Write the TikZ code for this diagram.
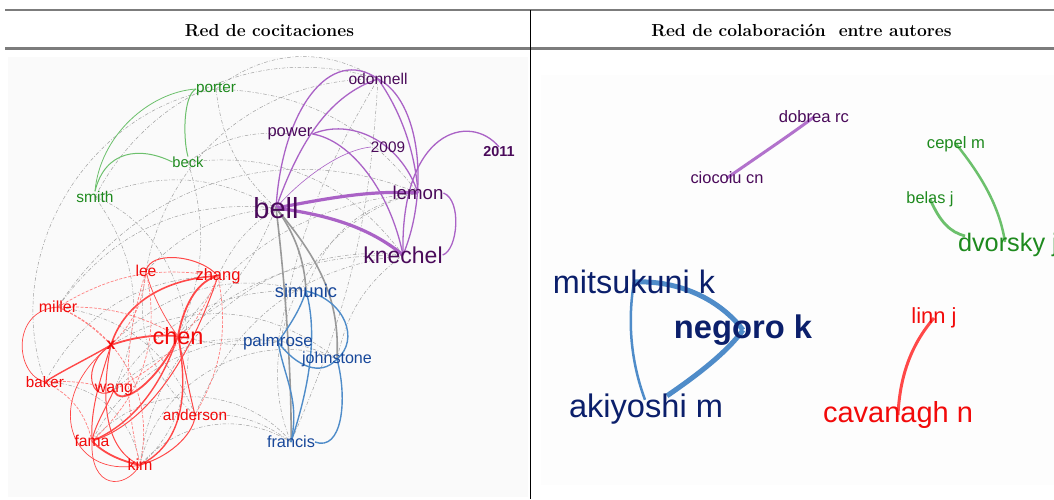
\documentclass[tikz,border=0pt]{standalone}
\usepackage{fontspec}
\newfontfamily\arialf{Liberation Sans}
\usetikzlibrary{backgrounds,calc}
\definecolor{labR}{HTML}{F20A0A}
\definecolor{edgR}{HTML}{FF4848}
\definecolor{labG}{HTML}{1E8A1E}
\definecolor{edgG}{HTML}{6CC06C}
\definecolor{labP}{HTML}{4A0A5A}
\definecolor{edgP}{HTML}{AA62C6}
\definecolor{labB}{HTML}{17479A}
\definecolor{labN}{HTML}{0B1F6B}
\definecolor{edgB}{HTML}{4F8CC9}
\definecolor{edgGr}{HTML}{A0A0A0}
\definecolor{ruleC}{HTML}{7C7C7C}
\newcommand\fsz[1]{\fontsize{#1}{#1}\selectfont}
\begin{document}
\begin{tikzpicture}[x=1pt,y=-1pt,
  lab/.style={inner sep=0pt, outer sep=0pt, font=\arialf\fsz{#1}},
  head/.style={inner sep=0pt, anchor=base, font=\fsz{17.4}\bfseries},
  rulel/.style={draw=ruleC, line width=2.2pt},
  ge/.style={draw=edgGr, line width=0.5pt, dash pattern=on 3.5pt off 1.8pt on 0.8pt off 1.8pt},
  gT/.style={draw=gray!80, line width=1.6pt},
  rE/.style={draw=edgR, line width=1pt},
  rD/.style={draw=edgR!70, line width=0.7pt, dash pattern=on 3pt off 1.5pt},
  gE/.style={draw=edgG, line width=1pt},
  pE/.style={draw=edgP, line width=1.3pt},
  bE/.style={draw=edgB, line width=1.4pt}]
\useasboundingbox (0,0) rectangle (1054,499);

% table
\draw[rulel] (5,10) -- (1054,10);
\draw[rulel] (5,48.5) -- (1054,48.5);
\draw[black, line width=0.9pt] (530,10) -- (530,499);
\node[head] (h1) at (269.5,36.7) {Red de cocitaciones};
\node[head] (h2) at (801.5,36.7) {Red de colaboración\ \ entre autores};

% ---------- left labels
\node[lab=15.3, text=labG] (porter) at (216,89) {porter};
\node[lab=14.7, text=labG] (beck) at (188,162) {beck};
\node[lab=15.5, text=labG] (smith) at (95,197) {smith};
\node[lab=16.5, text=labP] (power) at (290,134) {power};
\node[lab=15.6, text=labP] (odonnell) at (378,79) {odonnell};
\node[lab=15.3, text=labP] (y2009) at (388,147) {2009};
\node[lab=14.4, text=labP, font=\arialf\fsz{14.4}\bfseries] (y2011) at (499,152) {2011};
\node[lab=18.7, text=labP] (lemon) at (418,193) {lemon};
\node[lab=29, text=labP] (bell) at (276,208) {bell};
\node[lab=23, text=labP] (knechel) at (403,255) {knechel};
\node[lab=15.7, text=labR] (lee) at (146,271) {lee};
\node[lab=16.5, text=labR] (zhang) at (218,276) {zhang};
\node[lab=16, text=labR] (miller) at (58,307) {miller};
\node[lab=23.5, text=labR] (chen) at (178,336) {chen};
\node[lab=16, text=labR, font=\arialf\fsz{16}\bfseries] (xx) at (111,345) {x};
\node[lab=15.2, text=labR] (baker) at (45,382) {baker};
\node[lab=15.9, text=labR] (wang) at (114,390) {wang};
\node[lab=15.4, text=labR] (anderson) at (195,415) {anderson};
\node[lab=15.7, text=labR] (fama) at (92,441) {fama};
\node[lab=16, text=labR] (kim) at (140,465) {kim};
\node[lab=18.3, text=labB] (simunic) at (306,291) {simunic};
\node[lab=17, text=labB] (palmrose) at (278,342) {palmrose};
\node[lab=16.1, text=labB] (johnstone) at (337,359) {johnstone};
\node[lab=16.3, text=labB] (francis) at (291,442) {francis};

% ---------- right labels
\node[lab=16.6, text=labP] (dobrea) at (814,117) {dobrea rc};
\node[lab=16.4, text=labP] (ciocoiu) at (727,178) {ciocoiu cn};
\node[lab=16.6, text=labG] (cepel) at (956,144) {cepel m};
\node[lab=16.3, text=labG] (belas) at (930,199) {belas j};
\begin{scope}
\clip (531,52) rectangle (1054,499);
\node[lab=25.3, text=labG, anchor=west] (dvorsky) at (958,245) {dvorsky j};
\end{scope}
\node[lab=32.4, text=labN] (mitsukuni) at (634,282) {mitsukuni k};
\node[lab=32.7, text=labN, font=\arialf\fsz{32.7}\bfseries] (negoro) at (743,330) {negoro k};
\node[lab=32.6, text=labN] (akiyoshi) at (646,409) {akiyoshi m};
\node[lab=21.9, text=labR] (linn) at (934,318) {linn j};
\node[lab=29, text=labR] (cavanagh) at (898,415) {cavanagh n};

\begin{scope}[on background layer]
\fill[black!2] (8,57) rectangle (528,497);
\fill[black!0.8] (541,75) rectangle (1054,485);

% gray dashed co-citation links
\foreach \a/\b/\c in {smith/odonnell/40, smith/bell/25, porter/bell/-20, porter/odonnell/35,
  beck/knechel/30, beck/power/20, miller/bell/30, lee/bell/20, zhang/bell/15, chen/bell/-15,
  chen/knechel/20, chen/lemon/25, kim/francis/40, fama/johnstone/45, anderson/francis/20,
  baker/porter/50, smith/kim/60, wang/simunic/30, chen/palmrose/-10, anderson/knechel/30,
  kim/knechel/45, francis/lemon/50, johnstone/knechel/20, simunic/lemon/30, smith/wang/30,
  miller/anderson/30, lee/anderson/-30, baker/kim/40, xx/simunic/30, odonnell/francis/10,
  odonnell/palmrose/-10, miller/lemon/40, beck/chen/20, lee/odonnell/40, fama/francis/50,
  kim/johnstone/50, baker/zhang/30, porter/lemon/25, wang/palmrose/25, xx/johnstone/35}
  \draw[ge] (\a.center) to[bend left=\c] (\b.center);

% green
\draw[gE] (porter.west) .. controls (183,95) and (183,140) .. (beck.north);
\draw[gE, line width=0.8pt] (porter.west) .. controls (150,92) and (100,135) .. (smith.north);
\draw[gE] (beck.west) .. controls (140,146) and (105,150) .. (smith.north);

% purple
\draw[pE, line width=3.2pt] (bell.center) .. controls (330,198) and (370,190) .. (lemon.center);
\draw[pE, line width=3.2pt] (bell.center) .. controls (330,215) and (370,228) .. (knechel.center);
\draw[pE] (bell.center) .. controls (282,110) and (330,45) .. (odonnell.center);
\draw[pE] (bell.center) .. controls (300,140) and (330,95) .. (odonnell.center);
\draw[pE] (odonnell.center) .. controls (400,110) and (415,150) .. (lemon.center);
\draw[pE] (odonnell.center) .. controls (420,100) and (430,190) .. (knechel.center);
\draw[pE] (power.east) .. controls (350,118) and (400,140) .. (lemon.center);
\draw[pE] (power.east) .. controls (350,140) and (390,190) .. (knechel.center);
\draw[pE] (y2011.north) .. controls (470,112) and (400,130) .. (knechel.center);
\draw[pE] (lemon.east) .. controls (462,200) and (458,250) .. (knechel.east);
\draw[pE, line width=0.6pt] (y2009.west) .. controls (340,150) and (300,180) .. (bell.center);

% gray strong
\draw[gT] (bell.center) .. controls (285,280) and (292,380) .. (francis.center);
\draw[gT] (bell.center) .. controls (300,240) and (305,270) .. (simunic.center);
\draw[gT] (bell.center) .. controls (320,260) and (340,300) .. (johnstone.center);

% blue
\draw[bE] (simunic.center) .. controls (300,310) and (290,325) .. (palmrose.center);
\draw[bE] (simunic.center) .. controls (345,300) and (360,340) .. (johnstone.center);
\draw[bE] (simunic.center) .. controls (320,340) and (305,400) .. (francis.center);
\draw[bE] (palmrose.center) .. controls (285,380) and (300,400) .. (francis.center);
\draw[bE] (palmrose.center) .. controls (295,365) and (320,378) .. (johnstone.center);
\draw[bE] (johnstone.center) .. controls (348,400) and (342,452) .. (francis.east);

% red
\draw[rE, line width=1.8pt] (chen.center) .. controls (185,300) and (200,280) .. (zhang.center);
\draw[rE, line width=1.8pt] (xx.center) .. controls (140,335) and (160,335) .. (chen.center);
\draw[rE, line width=1.6pt] (xx.center) .. controls (125,300) and (170,278) .. (zhang.center);
\draw[rE, line width=1.8pt] (chen.center) .. controls (160,380) and (120,410) .. (wang.center);
\draw[rE, line width=1.8pt] (fama.center) .. controls (105,455) and (125,462) .. (kim.center);
\draw[rE, line width=1.4pt] (xx.center) .. controls (85,360) and (60,372) .. (baker.center);
\draw[rE, line width=1.4pt] (chen.center) .. controls (160,390) and (130,425) .. (fama.center);
\draw[rE, line width=1.4pt] (chen.center) .. controls (190,400) and (180,445) .. (kim.center);
\draw[rE] (lee.center) .. controls (150,250) and (200,255) .. (zhang.center);
\draw[rE] (xx.center) .. controls (80,365) and (90,405) .. (wang.center);
\draw[rE] (chen.center) .. controls (185,370) and (190,395) .. (anderson.center);
\draw[rE] (xx.center) .. controls (100,400) and (105,450) .. (kim.center);
\draw[rE] (xx.center) .. controls (100,380) and (90,410) .. (fama.center);
\draw[rE, line width=0.7pt] (miller.center) .. controls (10,310) and (15,375) .. (baker.center);
\draw[rE] (kim.center) .. controls (175,455) and (195,430) .. (anderson.center);
\draw[rE, line width=0.7pt] (fama.center) .. controls (90,490) and (125,490) .. (kim.center);
\draw[rE, line width=0.7pt] (xx.center) .. controls (40,400) and (70,480) .. (kim.center);
\draw[rE] (wang.center) .. controls (105,410) and (95,425) .. (fama.center);
\draw[rE] (zhang.center) .. controls (200,330) and (160,420) .. (fama.center);
\draw[rE, line width=0.7pt] (lee.center) .. controls (150,290) and (165,320) .. (chen.center);
\foreach \a/\b/\c in {miller/xx/10, lee/xx/20, miller/chen/15, baker/wang/10, baker/fama/25,
  miller/kim/40, lee/fama/30, zhang/anderson/20, lee/kim/-15, zhang/wang/20, miller/zhang/20}
  \draw[rD] (\a.center) to[bend left=\c] (\b.center);

% ---------- right edges
\draw[pE, line width=3pt, draw=edgP!90] (dobrea.center) .. controls (790,135) and (760,155) .. (ciocoiu.center);
\draw[gE, line width=2.5pt] (cepel.center) .. controls (985,180) and (1000,210) .. ($(dvorsky.west)+(47,-3)$);
\draw[gE, line width=2.8pt] (belas.center) .. controls (940,222) and (950,232) .. ($(dvorsky.west)+(7,-9)$);
\draw[bE, line width=5pt] (mitsukuni.center) .. controls (680,280) and (720,300) .. (negoro.center);
\draw[bE, line width=5pt] (negoro.center) .. controls (725,355) and (690,380) .. ($(akiyoshi.north)+(21,2)$);
\draw[bE, line width=2.5pt] (mitsukuni.center) .. controls (626,330) and (634,370) .. ($(akiyoshi.north)+(-1,6)$);
\draw[rE, line width=3pt] (linn.center) .. controls (915,340) and (900,370) .. (cavanagh.center);
\end{scope}
\end{tikzpicture}
\end{document}
